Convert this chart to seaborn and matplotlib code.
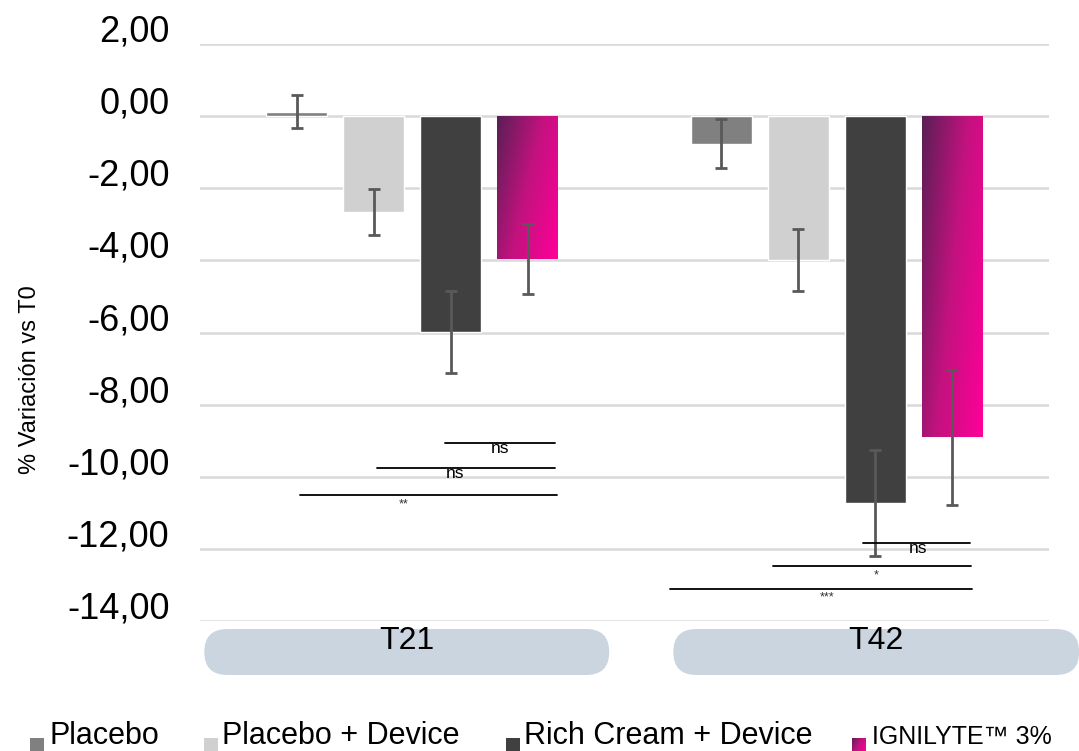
import numpy as np
import pandas as pd
import seaborn as sns
import matplotlib.pyplot as plt
from matplotlib.colors import LinearSegmentedColormap
from matplotlib.patches import FancyBboxPatch
from matplotlib.transforms import ScaledTranslation, IdentityTransform

# --- data ---
timepoints = ['T21', 'T42']
groups = ['Placebo', 'Placebo + Device', 'Rich Cream + Device', 'IGNILYTE™ 3%']
means_t21 = [0.12, -2.65, -5.98, -3.96]
means_t42 = [-0.76, -4.00, -10.72, -8.90]
err_t21 = [0.46, 0.64, 1.14, 0.98]
err_t42 = [0.68, 0.86, 1.47, 1.87]
colors = ['#808080', '#d0d0d0', '#404040', '#ff0099']

# significance brackets: (x start, x end, y, label, label x)
sig_x0 = [0.078, -0.082, -0.264, 1.062, 0.850, 0.608]
sig_x1 = [0.337, 0.337, 0.342, 1.314, 1.317, 1.319]
sig_y = [-9.07, -9.76, -10.51, -11.84, -12.48, -13.11]
sig_labels = ['ns', 'ns', '**', 'ns', '*', '***']
sig_tx = [0.207, 0.101, -0.021, 1.192, 1.093, 0.978]

df = pd.DataFrame({
    'time': np.repeat(timepoints, len(groups)),
    'group': groups * len(timepoints),
    'value': means_t21 + means_t42,
    'err': err_t21 + err_t42,
})

sns.set_style('white')
plt.rcParams['font.family'] = ['Liberation Sans', 'DejaVu Sans']
plt.rcParams['axes.unicode_minus'] = False
plt.rcParams['text.color'] = 'black'
plt.rcParams['axes.labelcolor'] = 'black'
plt.rcParams['ytick.color'] = 'black'

fig = plt.figure(figsize=(10.79, 7.51), dpi=100)
ax = fig.add_axes([0.1854, 0.1731, 0.7868, 0.7683])

sns.barplot(data=df, x='time', y='value', hue='group', hue_order=groups,
            palette=colors, width=0.725, gap=0.21, errorbar=None,
            legend=False, ax=ax, zorder=2)

# error bars on top of each bar
for g, cont in zip(groups, ax.containers):
    sub = df[df['group'] == g]
    xs = [b.get_x() + b.get_width() / 2 for b in cont]
    ax.errorbar(xs, sub['value'], yerr=sub['err'], fmt='none',
                ecolor='#595959', elinewidth=2, capsize=4.3, capthick=2, zorder=4)

# gradient fill for the IGNILYTE bars
grad_cmap = LinearSegmentedColormap.from_list('ign', ['#5a1f55', '#c3127f', '#ff0099'])
u, v = np.meshgrid(np.linspace(0, 1, 60), np.linspace(0, 1, 120))
grad = 0.65 * u + 0.35 * v
for bar in ax.containers[3]:
    x0, w = bar.get_x(), bar.get_width()
    y0, h = bar.get_y(), bar.get_height()
    bar.set_facecolor('none')
    bar.set_edgecolor('none')
    im = ax.imshow(grad, cmap=grad_cmap, vmin=0, vmax=1, aspect='auto',
                   extent=[x0, x0 + w, y0 + h, y0], origin='upper', zorder=2)
    im.set_clip_path(bar)

# significance lines
for x0, x1, y, lab, tx in zip(sig_x0, sig_x1, sig_y, sig_labels, sig_tx):
    ax.plot([x0, x1], [y, y], color='black', lw=1.3, zorder=5)
    if lab == 'ns':
        ax.text(tx, y + 0.05, lab, ha='center', va='top', fontsize=12.5, zorder=5)
    else:
        ax.text(tx, y - 0.08, lab, ha='center', va='top', fontsize=9,
                color='#333333', zorder=5)

ax.set_xlim(-0.5, 1.5)
ax.set_ylim(-14, 2)
ax.set_yticks(np.arange(-14, 3, 2))
ax.set_yticklabels([f'{t:.2f}'.replace('.', ',') for t in np.arange(-14, 3, 2)], fontsize=26)
ax.tick_params(axis='y', length=0, pad=22, colors='black')
ax.tick_params(axis='x', length=0, labelbottom=False)
shift = ScaledTranslation(0, 0.16, fig.dpi_scale_trans)
for lbl in ax.get_yticklabels():
    lbl.set_transform(lbl.get_transform() + shift)
ax.yaxis.grid(True, color='#d9d9d9', lw=1.8)
ax.set_axisbelow(True)
sns.despine(ax=ax, left=True, bottom=True)
ax.set_xlabel('')
ax.set_ylabel('% Variación vs T0', fontsize=17)
ax.yaxis.set_label_coords(-0.187, 0.418)

# rounded category pills below the axis
fig.canvas.draw()
pill_x0 = [-0.49, 0.615]
pill_x1 = [0.464, 1.571]
pill_tx = [-0.012, 1.093]
W, H = fig.bbox.width, fig.bbox.height
for t, a, b, tx in zip(timepoints, pill_x0, pill_x1, pill_tx):
    xa = ax.transData.transform((a, 0))[0]
    xb = ax.transData.transform((b, 0))[0]
    pill = FancyBboxPatch((xa + 23, H - 652), xb - xa - 46, 0,
                          boxstyle='round,pad=23,rounding_size=23',
                          transform=IdentityTransform(),
                          facecolor='#cbd5df', edgecolor='none', zorder=0)
    fig.add_artist(pill)
    xt = ax.transData.transform((tx, 0))[0]
    fig.text(xt / W, (H - 641) / H, t, ha='center', va='center', fontsize=23)

# legend along the bottom edge
sq_x = [30, 204, 506, 852]
txt_x = [50, 222, 524, 872]
txt_size = [22, 22, 22, 18]
for i, g in enumerate(groups):
    sq = fig.add_axes([sq_x[i] / W, 0, 14 / W, 13 / H])
    if i == 3:
        sq.imshow(grad, cmap=grad_cmap, vmin=0, vmax=1, aspect='auto')
    else:
        sq.set_facecolor(colors[i])
    for s in sq.spines.values():
        s.set_visible(False)
    sq.set_xticks([])
    sq.set_yticks([])
    fig.text(txt_x[i] / W, (H - 744) / H, g, ha='left', va='baseline',
             fontsize=txt_size[i])

fig.savefig('out.png', dpi=100)
